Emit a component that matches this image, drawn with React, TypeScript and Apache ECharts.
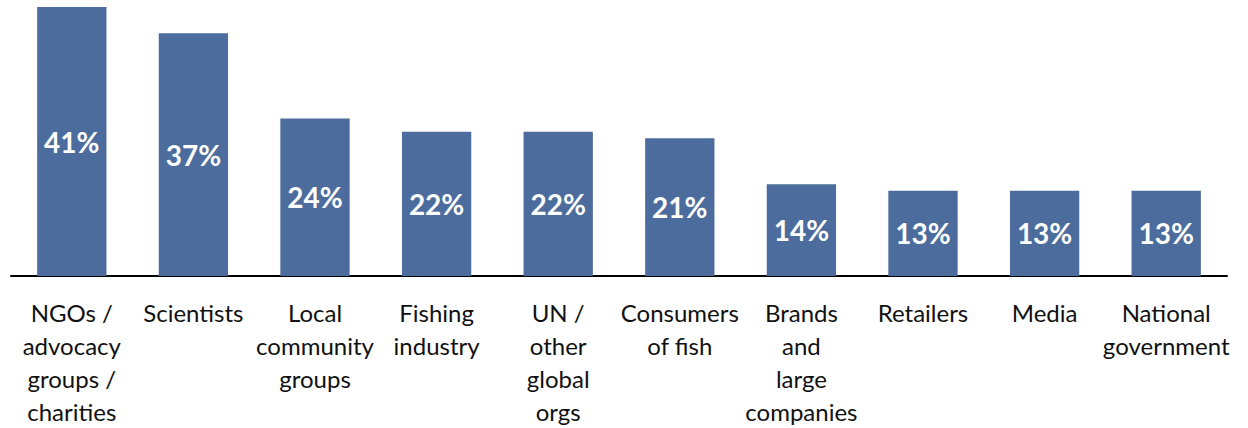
import React, { useEffect, useRef } from "react";
import * as echarts from "echarts";

const categories = [
  "NGOs /\nadvocacy\ngroups /\ncharities",
  "Scientists",
  "Local\ncommunity\ngroups",
  "Fishing\nindustry",
  "UN /\nother\nglobal\norgs",
  "Consumers\nof fish",
  "Brands\nand\nlarge\ncompanies",
  "Retailers",
  "Media",
  "National\ngovernment",
];
const values = [41, 37, 24, 22, 22, 21, 14, 13, 13, 13];

export default function App() {
  const ref = useRef<HTMLDivElement>(null);
  useEffect(() => {
    if (!ref.current) return;
    const chart = echarts.init(ref.current, null, { renderer: "svg" });
    chart.setOption({
      animation: false,
      grid: { left: 11, right: 21, top: 7, bottom: 148, containLabel: false },
      xAxis: {
        type: "category",
        data: categories,
        axisTick: { show: false },
        axisLine: { lineStyle: { color: "#000", width: 2 } },
        axisLabel: {
          interval: 0,
          margin: 20,
          lineHeight: 33,
          fontSize: 24,
          fontFamily: "Lato",
          color: "#111",
        },
      },
      yAxis: {
        type: "value",
        min: 0,
        max: 41,
        show: false,
        splitLine: { show: false },
      },
      series: [
        {
          type: "bar",
          data: values,
          barWidth: "57%",
          itemStyle: { color: "#4B6C9C" },
          label: {
            show: true,
            position: "inside",
            formatter: "{c}%",
            color: "#fff",
            fontWeight: "bold",
            fontSize: 28,
            fontFamily: "Lato",
          },
        },
      ],
    });
    return () => chart.dispose();
  }, []);
  return (
    <div
      ref={ref}
      style={{ position: "absolute", left: 0, top: 0, width: 1248, height: 428, background: "#fff" }}
    />
  );
}
